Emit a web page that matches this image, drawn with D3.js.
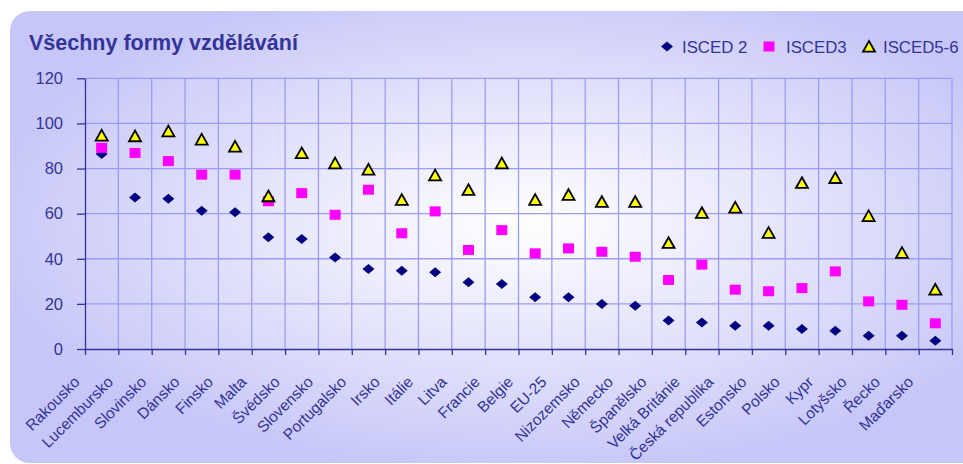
<!DOCTYPE html>
<html>
<head>
<meta charset="utf-8">
<script src="https://cdn.jsdelivr.net/npm/d3@7"></script>
<style>
  html, body { margin: 0; padding: 0; background: #ffffff; }
  svg { display: block; }
  text { font-family: Arial, "Liberation Sans", sans-serif; }
</style>
</head>
<body>
<svg id="chart" width="963" height="464"></svg>
<script>
const title = "Všechny formy vzdělávání";
const categories = ["Rakousko","Lucembursko","Slovinsko","Dánsko","Finsko","Malta","Švédsko","Slovensko","Portugalsko","Irsko","Itálie","Litva","Francie","Belgie","EU-25","Nizozemsko","Německo","Španělsko","Velká Británie","Česká republika","Estonsko","Polsko","Kypr","Lotyšsko","Řecko","Maďarsko"];
const seriesNames = ["ISCED 2", "ISCED3", "ISCED5-6"];
const isced2 = [86.4, 67.2, 66.6, 61.3, 60.6, 49.5, 48.8, 40.6, 35.5, 34.7, 34.0, 29.6, 28.8, 22.9, 22.9, 19.9, 19.2, 12.6, 11.8, 10.3, 10.3, 8.9, 8.1, 5.9, 5.9, 3.7];
const isced3 = [89.2, 86.9, 83.3, 77.3, 77.3, 65.5, 69.1, 59.5, 70.6, 51.3, 61.0, 43.9, 52.7, 42.4, 44.6, 43.1, 40.9, 30.6, 37.4, 26.3, 25.6, 27.0, 34.4, 21.1, 19.6, 11.4];
const isced56 = [94.7, 94.4, 96.6, 92.9, 89.8, 67.8, 86.9, 82.4, 79.6, 66.2, 77.1, 70.6, 82.4, 66.2, 68.4, 65.3, 65.3, 47.1, 60.4, 62.8, 51.6, 73.7, 75.9, 59.0, 42.7, 26.4];
const yTicks = [0, 20, 40, 60, 80, 100, 120];

const svg = d3.select("#chart");
const plot = {left: 85, right: 952, top: 78.3, bottom: 349};
const txt = "#333399";
const gridCol = "#9c9cf6";
const ff = "Arial, 'Liberation Sans', sans-serif";

// background gradient
const defs = svg.append("defs");
const rg = defs.append("radialGradient").attr("id", "bg")
  .attr("cx", 0.52).attr("cy", 0.47).attr("r", 0.56);
rg.append("stop").attr("offset", "0%").attr("stop-color", "#ffffff");
rg.append("stop").attr("offset", "35%").attr("stop-color", "#ececfd");
rg.append("stop").attr("offset", "100%").attr("stop-color", "#c6c6f8");

svg.append("rect").attr("x", 10).attr("y", 11).attr("width", 990).attr("height", 452)
  .attr("rx", 20).attr("ry", 20).attr("fill", "url(#bg)");

const x = d3.scaleBand().domain(categories).range([plot.left, plot.right]).paddingInner(0).paddingOuter(0);
const xb = d3.scaleLinear().domain([0, categories.length]).range([plot.left, plot.right]);
const y = d3.scaleLinear().domain([0, 120]).range([plot.bottom, plot.top]);

// gridlines
const grid = svg.append("g");
grid.selectAll("line.h").data(yTicks.filter(t => t > 0)).join("line")
  .attr("x1", plot.left).attr("x2", plot.right)
  .attr("y1", d => y(d)).attr("y2", d => y(d))
  .attr("stroke", gridCol).attr("stroke-width", 1.3);
grid.selectAll("line.v").data(d3.range(1, categories.length + 1)).join("line")
  .attr("x1", d => xb(d)).attr("x2", d => xb(d))
  .attr("y1", plot.top).attr("y2", plot.bottom)
  .attr("stroke", gridCol).attr("stroke-width", 1.3);

// y axis
const yAxis = svg.append("g").attr("transform", `translate(${plot.left},0)`)
  .call(d3.axisLeft(y).tickValues(yTicks).tickSize(8).tickPadding(14).tickSizeOuter(0));
yAxis.selectAll("path, line").attr("stroke", txt).attr("stroke-width", 1.3);
yAxis.selectAll("text").attr("fill", txt).attr("font-size", 16.5).style("font-family", ff);

// x boundary ticks
const xTickAxis = svg.append("g").attr("transform", `translate(0,${plot.bottom})`)
  .call(d3.axisBottom(xb).tickValues(d3.range(0, categories.length + 1)).tickSize(6).tickFormat("").tickSizeOuter(0));
xTickAxis.selectAll("path, line").attr("stroke", txt).attr("stroke-width", 1.3);

// x category labels
const xAxis = svg.append("g").attr("transform", `translate(0,${plot.bottom})`)
  .call(d3.axisBottom(x).tickSize(0).tickSizeOuter(0));
xAxis.select("path").remove();
xAxis.selectAll("text")
  .attr("x", 0).attr("y", 0).attr("dy", 0)
  .attr("text-anchor", "end")
  .attr("transform", "translate(-21,34) rotate(-45)")
  .attr("fill", txt).attr("font-size", 15.5)
  .style("font-family", ff);

// markers
const diamond = "M0,-5 L6,0 L0,5 L-6,0 Z";
const square = "M-5.5,-5 L5.5,-5 L5.5,5 L-5.5,5 Z";
const triangle = "M0,-5.5 L6,5.2 L-6,5.2 Z";

const cx = i => x(categories[i]) + x.bandwidth() / 2;

svg.append("g").selectAll("path").data(isced2).join("path")
  .attr("d", diamond).attr("fill", "#000080")
  .attr("transform", (d, i) => `translate(${cx(i)},${y(d)})`);
svg.append("g").selectAll("path").data(isced3).join("path")
  .attr("d", square).attr("fill", "#ff00ff")
  .attr("transform", (d, i) => `translate(${cx(i)},${y(d)})`);
svg.append("g").selectAll("path").data(isced56).join("path")
  .attr("d", triangle).attr("fill", "#ffff00").attr("stroke", "#000000").attr("stroke-width", 1.8)
  .attr("transform", (d, i) => `translate(${cx(i)},${y(d)})`);

// title
svg.append("text").attr("x", 29).attr("y", 49.5).text(title)
  .attr("fill", txt).attr("font-size", 21.5).attr("font-weight", "bold");

// legend
const legend = [
  {name: seriesNames[0], mx: 667, tx: 682, d: diamond, fill: "#000080", stroke: "none"},
  {name: seriesNames[1], mx: 769, tx: 786, d: square, fill: "#ff00ff", stroke: "none"},
  {name: seriesNames[2], mx: 869, tx: 883, d: triangle, fill: "#ffff00", stroke: "#000000"}
];
const lg = svg.append("g");
legend.forEach(l => {
  lg.append("path").attr("d", l.d).attr("fill", l.fill).attr("stroke", l.stroke).attr("stroke-width", 1.8)
    .attr("transform", `translate(${l.mx},46.5)`);
  lg.append("text").attr("x", l.tx).attr("y", 52.5).text(l.name)
    .attr("fill", txt).attr("font-size", 16.8);
});
</script>
</body>
</html>
